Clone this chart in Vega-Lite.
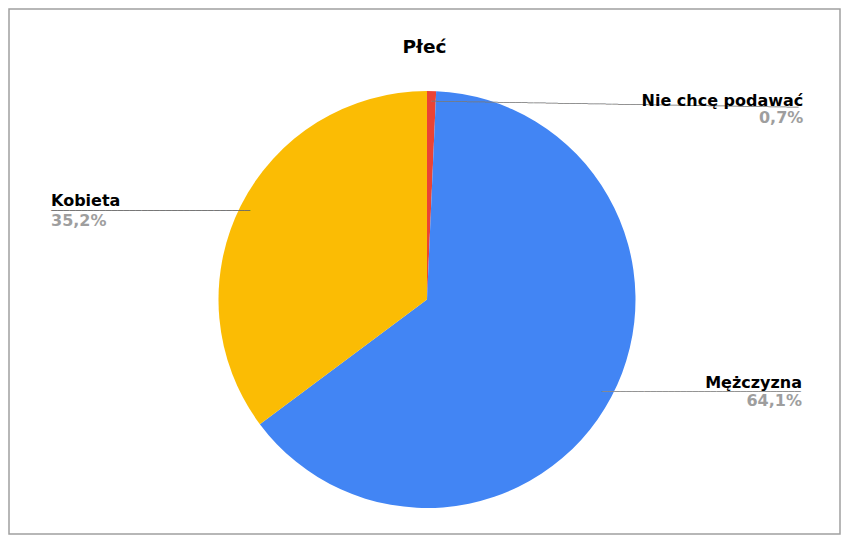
{
  "$schema": "https://vega.github.io/schema/vega-lite/v6.json",
  "autosize": {"type": "none"},
  "width": 831,
  "height": 525,
  "padding": {"left": 9, "top": 9, "right": 4, "bottom": 9},
  "background": "white",
  "view": {"stroke": "#a0a0a0", "strokeWidth": 1.5, "fill": "white"},
  "title": {
    "text": "Płeć",
    "font": "DejaVu Sans",
    "fontSize": 18.5,
    "fontWeight": "bold",
    "color": "#000000",
    "anchor": "middle",
    "baseline": "alphabetic",
    "offset": -62
  },
  "config": {
    "view": {"stroke": "#a0a0a0", "strokeWidth": 1.5},
    "locale": {"number": {"decimal": ",", "thousands": " ", "grouping": [3], "currency": ["", " zł"]}}
  },
  "data": {
    "values": [
      {"Płeć": "Nie chcę podawać", "udział": 0.007},
      {"Płeć": "Mężczyzna", "udział": 0.641},
      {"Płeć": "Kobieta", "udział": 0.352}
    ]
  },
  "encoding": {
    "theta": {"field": "udział", "type": "quantitative", "stack": true},
    "order": {"field": "Płeć", "sort": "descending"}
  },
  "layer": [
    {
      "mark": {"type": "arc", "outerRadius": 208.5, "x": {"expr": "width/2+2.5"}, "y": {"expr": "height/2+28"}},
      "encoding": {
        "color": {
          "field": "Płeć",
          "type": "nominal",
          "legend": null,
          "scale": {"domain": ["Nie chcę podawać", "Mężczyzna", "Kobieta"], "range": ["#EA4335", "#4285F4", "#FBBC04"]}
        }
      }
    },
    {
      "mark": {"type": "text", "radius": 198, "x": {"expr": "width/2+2.5"}, "y": {"expr": "height/2+28"}, "align": "left", "baseline": "middle", "angle": 0.95, "limit": 372, "ellipsis": "─", "font": "DejaVu Sans", "fontSize": 10, "color": "#7a7a7a"},
      "encoding": {"text": {"condition": {"test": "datum['Płeć'] === 'Nie chcę podawać'", "value": "────────────────────────────────────────────────────────────────────────"}, "value": ""}}
    },
    {
      "mark": {"type": "text", "radius": 198, "x": {"expr": "width/2+2.5"}, "y": {"expr": "height/2+28"}, "align": "left", "baseline": "middle", "limit": 200, "ellipsis": "─", "font": "DejaVu Sans", "fontSize": 10, "color": "#8a8a8a"},
      "encoding": {"text": {"condition": {"test": "datum['Płeć'] === 'Mężczyzna'", "value": "────────────────────────────────────────────────"}, "value": ""}}
    },
    {
      "mark": {"type": "text", "radius": 198, "x": {"expr": "width/2+2.5"}, "y": {"expr": "height/2+28"}, "align": "right", "baseline": "middle", "limit": 199, "ellipsis": "─", "font": "DejaVu Sans", "fontSize": 10, "color": "#6a6a6a"},
      "encoding": {"text": {"condition": {"test": "datum['Płeć'] === 'Kobieta'", "value": "────────────────────────────────────────────────"}, "value": ""}}
    },
    {
      "mark": {"type": "text", "radius": 198, "x": {"expr": "width/2+2.5"}, "y": {"expr": "height/2+28"}, "align": "right", "baseline": "alphabetic", "dx": 372, "dy": 4, "font": "DejaVu Sans", "fontSize": 16, "fontWeight": "bold", "color": "#000000"},
      "encoding": {"text": {"condition": {"test": "datum['Płeć'] === 'Nie chcę podawać'", "field": "Płeć"}, "value": ""}}
    },
    {
      "mark": {"type": "text", "radius": 198, "x": {"expr": "width/2+2.5"}, "y": {"expr": "height/2+28"}, "align": "right", "baseline": "alphabetic", "dx": 372, "dy": 21, "font": "DejaVu Sans", "fontSize": 16, "fontWeight": "bold", "color": "#9e9e9e"},
      "encoding": {"text": {"condition": {"test": "datum['Płeć'] === 'Nie chcę podawać'", "field": "udział", "format": ".1%"}, "value": ""}}
    },
    {
      "mark": {"type": "text", "radius": 198, "x": {"expr": "width/2+2.5"}, "y": {"expr": "height/2+28"}, "align": "right", "baseline": "alphabetic", "dx": 200, "dy": -4.5, "font": "DejaVu Sans", "fontSize": 16, "fontWeight": "bold", "color": "#000000"},
      "encoding": {"text": {"condition": {"test": "datum['Płeć'] === 'Mężczyzna'", "field": "Płeć"}, "value": ""}}
    },
    {
      "mark": {"type": "text", "radius": 198, "x": {"expr": "width/2+2.5"}, "y": {"expr": "height/2+28"}, "align": "right", "baseline": "alphabetic", "dx": 200, "dy": 14, "font": "DejaVu Sans", "fontSize": 16, "fontWeight": "bold", "color": "#9e9e9e"},
      "encoding": {"text": {"condition": {"test": "datum['Płeć'] === 'Mężczyzna'", "field": "udział", "format": ".1%"}, "value": ""}}
    },
    {
      "mark": {"type": "text", "radius": 198, "x": {"expr": "width/2+2.5"}, "y": {"expr": "height/2+28"}, "align": "left", "baseline": "alphabetic", "dx": -199, "dy": -4.5, "font": "DejaVu Sans", "fontSize": 16, "fontWeight": "bold", "color": "#000000"},
      "encoding": {"text": {"condition": {"test": "datum['Płeć'] === 'Kobieta'", "field": "Płeć"}, "value": ""}}
    },
    {
      "mark": {"type": "text", "radius": 198, "x": {"expr": "width/2+2.5"}, "y": {"expr": "height/2+28"}, "align": "left", "baseline": "alphabetic", "dx": -199, "dy": 15, "font": "DejaVu Sans", "fontSize": 16, "fontWeight": "bold", "color": "#9e9e9e"},
      "encoding": {"text": {"condition": {"test": "datum['Płeć'] === 'Kobieta'", "field": "udział", "format": ".1%"}, "value": ""}}
    }
  ]
}
